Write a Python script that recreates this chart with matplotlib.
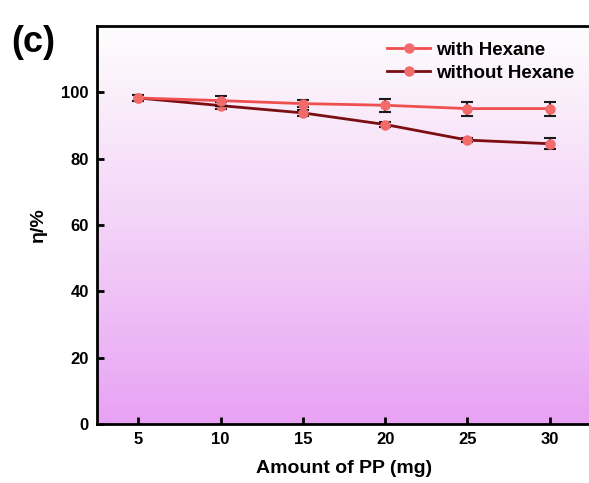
import matplotlib
matplotlib.use("Agg")
import matplotlib.pyplot as plt
import numpy as np
from matplotlib.colors import LinearSegmentedColormap
from matplotlib.lines import Line2D

plt.rcParams['font.family'] = ['Liberation Sans', 'DejaVu Sans']
plt.rcParams['font.weight'] = 'bold'

pp_amount = [5, 10, 15, 20, 25, 30]
with_hexane = [98.3, 97.5, 96.6, 96.1, 95.1, 95.1]
with_hexane_err = [0.8, 1.5, 1.0, 2.0, 2.1, 2.1]
without_hexane = [98.3, 96.0, 93.8, 90.3, 85.6, 84.5]
without_hexane_err = [0.8, 1.0, 0.9, 0.8, 0.7, 1.6]
labels = ["with Hexane", "without Hexane"]
yticks = [0, 20, 40, 60, 80, 100]

W, H = 589, 483
fig = plt.figure(figsize=(W / 100, H / 100), dpi=100)
ax = fig.add_axes([97 / W, (H - 424) / H, (591 - 97) / W, (424 - 26) / H])

# background gradient
cmap = LinearSegmentedColormap.from_list(
    'bg', [(0.0, '#E8A2F4'), (0.5, '#F3D3F8'), (0.85, '#FBF1FB'), (1.0, '#FEFDFE')])
grad = np.linspace(0, 1, 256).reshape(-1, 1)
ax.imshow(grad, aspect='auto', cmap=cmap, origin='lower',
          extent=[2.5, 32.5, 0, 120], zorder=0)

light = '#EF4F4F'
dark = '#7A0E12'
marker_face = '#F26A6A'

ax.errorbar(pp_amount, without_hexane, yerr=without_hexane_err, color=dark,
            lw=2, marker='o', ms=6.5, mfc=marker_face, mec=marker_face,
            ecolor='#1a1a1a', elinewidth=1.5, capsize=4, capthick=1.5,
            zorder=3)
ax.errorbar(pp_amount, with_hexane, yerr=with_hexane_err, color=light,
            lw=2, marker='o', ms=6.5, mfc=marker_face, mec=marker_face,
            ecolor='#1a1a1a', elinewidth=1.5, capsize=4, capthick=1.5,
            zorder=4)

ax.set_xlim(2.5, 32.5)
ax.set_ylim(0, 120)
ax.set_xticks(pp_amount)
ax.set_yticks(yticks)
ax.tick_params(direction='in', length=5, width=2, labelsize=12, pad=6)
for lbl in ax.get_xticklabels() + ax.get_yticklabels():
    lbl.set_fontweight('bold')
for s in ax.spines.values():
    s.set_linewidth(2)

ax.set_xlabel('Amount of PP (mg)', fontsize=14, fontweight='bold', labelpad=9)
ax.set_ylabel('η/%', fontsize=14, fontweight='bold', labelpad=10)

handles = [
    Line2D([], [], color=light, lw=2, marker='o', ms=6.5, mfc=marker_face, mec=marker_face),
    Line2D([], [], color=dark, lw=2, marker='o', ms=6.5, mfc=marker_face, mec=marker_face),
]
leg = ax.legend(handles, labels, loc='upper right', frameon=False,
                fontsize=13.5, handlelength=2.3, handletextpad=0.3,
                labelspacing=0.3, bbox_to_anchor=(1.0, 1.003))
for t in leg.get_texts():
    t.set_fontweight('bold')

fig.text(11 / W, (H - 42) / H, '(c)', fontsize=26, fontweight='bold',
         va='center', ha='left')

fig.savefig('out.png', dpi=100)
